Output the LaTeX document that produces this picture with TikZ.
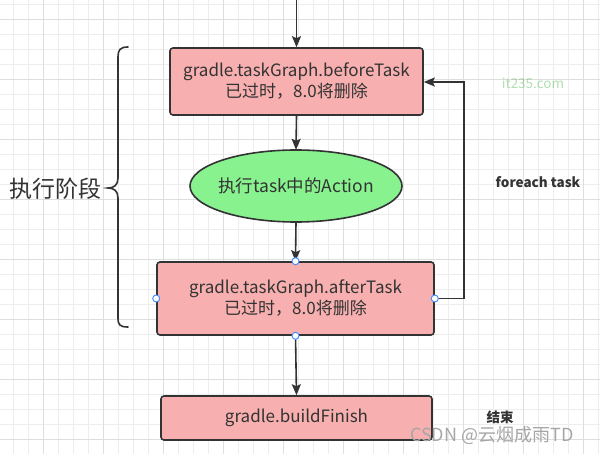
\documentclass[tikz,border=0pt]{standalone}
\usepackage{fontspec}
\setmainfont{Noto Sans CJK SC}
\usetikzlibrary{arrows.meta,shapes.geometric}
\definecolor{boxfill}{HTML}{F7AFAF}
\definecolor{ellfill}{HTML}{88F28F}
\definecolor{edge}{HTML}{333333}
\definecolor{gridminor}{HTML}{EDEDED}
\definecolor{gridmajor}{HTML}{DEDEDE}
\definecolor{handle}{HTML}{3C8CFF}
\tikzset{
  pinkbox/.style={draw=edge,line width=1.6pt,fill=boxfill,rounded corners=3pt,align=center,font=\fontsize{17}{21}\selectfont,text=edge,inner sep=0pt},
  ellshape/.style={draw=edge,line width=1.6pt,fill=ellfill},
  elltext/.style={inner sep=0pt,font=\fontsize{17.5}{21}\selectfont,text=edge},
  flow/.style={draw=edge,line width=1.6pt,-{Stealth[length=11pt,width=9pt,inset=2pt]}},
  dot/.style={circle,draw=handle,fill=white,line width=0.9pt,minimum size=7pt,inner sep=0pt},
  note/.style={font=\bfseries\fontsize{13.5}{16}\selectfont,text=edge}
}
\begin{document}
\begin{tikzpicture}[x=1pt,y=-1pt]
\useasboundingbox (0,0) rectangle (600,454);
\fill[white] (0,0) rectangle (600,454);
% grid
\foreach \x in {13,28,...,598} \draw[gridminor,line width=0.8pt] (\x,0) -- (\x,454);
\foreach \y in {4,19,...,454} \draw[gridminor,line width=0.8pt] (0,\y) -- (600,\y);
\foreach \x in {43,103,...,598} \draw[gridmajor,line width=0.8pt] (\x,0) -- (\x,454);
\foreach \y in {19,79,...,454} \draw[gridmajor,line width=0.8pt] (0,\y) -- (600,\y);
% nodes
\node[pinkbox,minimum width=253pt,minimum height=67pt] (b1) at (296.5,81.5) {gradle.taskGraph.beforeTask\\已过时，8.0将删除};
\draw[ellshape] (296,186) ellipse [x radius=106, y radius=36];
\node[elltext,minimum width=212pt,minimum height=72pt] (e1) at (296,186) {执行task中的Action};
\node[pinkbox,minimum width=277pt,minimum height=73pt] (b2) at (295.5,298.5) {gradle.taskGraph.afterTask\\已过时，8.0将删除};
\node[pinkbox,minimum width=271pt,minimum height=44pt] (b3) at (296.5,418) {gradle.buildFinish};
\coordinate (top) at (296.5,0);
\coordinate (loopb) at (464,298.5);
\coordinate (loopt) at (464,82);
% connectors
\draw[flow] (top) -- (b1.north);
\draw[flow] (b1.south) -- (e1.north);
\draw[flow] (e1.south) -- (b2.north);
\draw[flow] (b2.south) -- (b3.north);
\draw[flow] (b2.east) -- (loopb) -- (loopt) -- (b1.east |- loopt);
% selection handles
\node[dot] (h1) at (b2.north) {};
\node[dot] (h2) at (b2.south) {};
\node[dot] (h3) at (b2.west) {};
\node[dot] (h4) at (b2.east) {};
% labels
\node[note] (fe) at (538,182) {foreach task};
\node[note] (end) at (500,417) {结束};
\node[text=green!60!black,opacity=0.3,font=\fontsize{13.5}{16}\selectfont] (wm1) at (533,83) {it235.com};
\node[text=black!35,font=\fontsize{18}{21}\selectfont,anchor=west,inner sep=0pt] (wm2) at (410,436) {CSDN @云烟成雨TD};
% brace
\draw[edge,line width=1.6pt,line cap=round] (128,47) .. controls (120,47) and (118,50) .. (118,57) -- (118,178) .. controls (118,185) and (114,188) .. (108,188) .. controls (114,188) and (118,191) .. (118,198) -- (118,318) .. controls (118,325) and (120,327) .. (128,327);
\node[font=\fontsize{23}{27}\selectfont,text=edge,anchor=east,inner sep=0pt] (phase) at (102,189) {执行阶段};
\end{tikzpicture}
\end{document}
